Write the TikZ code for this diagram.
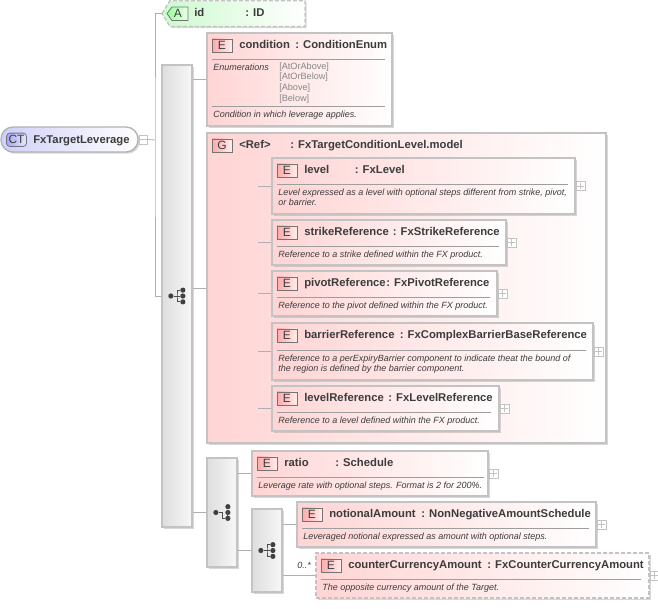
\documentclass[tikz,border=0pt]{standalone}
\usepackage{fontspec}
\setmainfont{Liberation Sans}
\usetikzlibrary{fit,positioning,shadows}
\definecolor{framegray}{RGB}{195,195,195}
\definecolor{linegray}{RGB}{175,175,175}
\definecolor{inkgray}{RGB}{60,60,60}
\definecolor{enumgray}{RGB}{135,135,135}
\definecolor{pinkbox}{RGB}{255,212,212}
\definecolor{greenbox}{RGB}{205,250,205}
\definecolor{bluebox}{RGB}{208,208,250}
\tikzset{
    softshadow/.style={drop shadow={shadow xshift=1.3pt,shadow yshift=-1.3pt,fill=black!45,opacity=.35}},
    elembox/.style={draw=framegray,line width=1.1pt,left color=pinkbox,right color=white,softshadow},
    optbox/.style={elembox,dash pattern=on 3pt off 1.5pt},
    barbox/.style={draw=framegray,line width=.9pt,left color=black!13,right color=black!3,softshadow},
    badge/.style={draw=black!55,line width=.6pt,left color=pinkbox!80!red,right color=pinkbox!40!white,
        minimum width=15pt,minimum height=9.8pt,inner sep=0pt,font=\fontsize{9}{9}\selectfont,text=inkgray},
    typetext/.style={anchor=base west,inner sep=0pt,font=\bfseries\fontsize{8.46}{10}\selectfont,text=inkgray},
    desctext/.style={anchor=base west,inner sep=0pt,font=\itshape\fontsize{6.75}{8}\selectfont,text=inkgray},
    enumtext/.style={anchor=base west,inner sep=0pt,font=\fontsize{6.85}{8}\selectfont,text=enumgray},
    foldbox/.style={draw=framegray,fill=white,line width=.6pt,minimum size=6.6pt,inner sep=0pt},
    foldline/.style={draw=framegray,line width=.6pt},
    wire/.style={draw=linegray,line width=.6pt},
    sepline/.style={draw=black!38,line width=.6pt},
    icondot/.style={circle,fill=black!75,inner sep=0pt,minimum size=3.9pt},
    iconline/.style={draw=black!70,line width=.6pt}
}
% box given by its corners
\newcommand\xsdbox[6]{
    \node[#1,fit={(#3,#4) (#5,#6)},inner sep=0pt] (#2) {};
}
% name line of an element box
\newcommand\elemhead[6]{
    \node[badge] (#1-badge) at (#2+15,#3+12.5) {E};
    \node[typetext] (#1-name) at (#2+32,#3+15.6) {#4};
    \node[typetext] (#1-type) at (#5,#3+15.6) {: #6};
}
% rule under the name line, first line of text under it
\newcommand\elemdesc[5]{
    \draw[sepline] (#2+5,#3) -- (#4,#3);
    \node[desctext] (#1-desc) at (#2+6,#3+11) {#5};
}
\newcommand\foldplus[1]{
    \node[foldbox,right=0pt of #1] (#1-fold) {};
    \draw[foldline] ([xshift=1.3pt]#1-fold.west) -- ([xshift=-1.3pt]#1-fold.east);
    \draw[foldline] ([yshift=1.3pt]#1-fold.south) -- ([yshift=-1.3pt]#1-fold.north);
}
% compositor icons, full and short
\newcommand\icondots[1]{
    \node[icondot] (#1-a) at ([xshift=-4.6pt]#1.center) {};
    \node[icondot] (#1-b) at ([xshift=4.4pt,yshift=4.4pt]#1.center) {};
    \node[icondot] (#1-c) at ([xshift=4.4pt]#1.center) {};
    \node[icondot] (#1-d) at ([xshift=4.4pt,yshift=-4.4pt]#1.center) {};
}
\newcommand\iconfull[1]{
    \icondots{#1}
    \draw[iconline] (#1-a) -- (#1-c);
    \draw[iconline] (#1-b) -| (#1.center) |- (#1-d);
}
\newcommand\iconshort[1]{
    \icondots{#1}
    \draw[iconline] (#1-a) -- (#1.center) |- (#1-d);
    \draw[iconline] (#1-b) -- (#1-d);
}
\begin{document}
\begin{tikzpicture}[x=0.75pt,y=-0.75pt]
    \useasboundingbox (0,0) rectangle (658,608);
    \coordinate (trunk) at (155,140);
    % root
    \node[draw=black!30,line width=1pt,rounded corners=9pt,left color=bluebox,right color=white,softshadow,
        fit={(1,127) (138,152)},inner sep=0pt] (root) {};
    \node[badge,rounded corners=2.5pt,left color=bluebox!80!blue,right color=bluebox!50!white,minimum height=10pt] (root-badge) at (16.5,139.8) {CT};
    \node[typetext] (root-name) at (33,143.6) {FxTargetLeverage};
    \node[foldbox,right=0pt of root] (root-fold) {};
    \draw[foldline] ([xshift=1.3pt]root-fold.west) -- ([xshift=-1.3pt]root-fold.east);
    % attribute
    \coordinate (id) at (162,13.5);
    \draw[framegray,line width=1pt,dash pattern=on 3pt off 1.5pt,left color=greenbox,right color=white,softshadow]
        (id) -- (170,.7) -- (305,.7) -- (305,26.5) -- (170,26.5) -- cycle;
    \draw[black!55,line width=.6pt,left color=green!40!white,right color=green!8!white]
        (167,13.5) -- (172,7) -- (188,7) -- (188,20.5) -- (172,20.5) -- cycle;
    \node[inner sep=0pt,font=\fontsize{9}{9}\selectfont,text=inkgray] (id-badge) at (178,13.8) {A};
    \node[typetext] (id-name) at (194,16.5) {id};
    \node[typetext] (id-type) at (245,16.5) {: ID};
    % compositors
    \xsdbox{barbox}{seqmain}{162}{65}{192}{527}
    \xsdbox{barbox}{seqlevel}{227}{170}{257}{424}
    \xsdbox{barbox}{seqratio}{207}{458}{237}{567}
    \xsdbox{barbox}{seqamount}{252}{509}{282}{592}
    \iconfull{seqmain}
    \iconshort{seqlevel}
    \iconshort{seqratio}
    \iconfull{seqamount}
    % condition
    \xsdbox{elembox}{condition}{207}{33}{392}{126}
    \elemhead{condition}{207}{33}{condition}{295}{ConditionEnum}
    \draw[sepline] (212,59.5) -- (385,59.5);
    \node[desctext] (condition-enums) at (213,70) {Enumerations};
    \node[enumtext] (enum-a) at (279,69.5) {[AtOrAbove]};
    \node[enumtext] (enum-b) at (279,79.5) {[AtOrBelow]};
    \node[enumtext] (enum-c) at (279,90.5) {[Above]};
    \node[enumtext] (enum-d) at (279,101.5) {[Below]};
    \elemdesc{condition}{207}{106.5}{385}{Condition in which leverage applies.}
    % group
    \xsdbox{elembox}{levelgroup}{207}{133}{606}{443}
    \node[badge] (levelgroup-badge) at (222,145.5) {G};
    \node[typetext] (levelgroup-name) at (239,148.6) {<Ref>};
    \node[typetext] (levelgroup-type) at (290,148.6) {: FxTargetConditionLevel.model};
    % level
    \xsdbox{elembox}{level}{272}{158}{575}{214}
    \elemhead{level}{272}{158}{level}{354.5}{FxLevel}
    \elemdesc{level}{272}{184.5}{568}{Level expressed as a level with optional steps different from strike, pivot,}
    \node[desctext] (level-descb) at (278,205.5) {or barrier.};
    % strikeReference
    \xsdbox{elembox}{strike}{272}{220}{506}{265}
    \elemhead{strike}{272}{220}{strikeReference}{392.5}{FxStrikeReference}
    \elemdesc{strike}{272}{246.5}{499}{Reference to a strike defined within the FX product.}
    % pivotReference
    \xsdbox{elembox}{pivot}{272}{271}{497}{316}
    \elemhead{pivot}{272}{271}{pivotReference}{386}{FxPivotReference}
    \elemdesc{pivot}{272}{297.5}{490}{Reference to the pivot defined within the FX product.}
    % barrierReference
    \xsdbox{elembox}{barrier}{272}{323}{593}{380}
    \elemhead{barrier}{272}{323}{barrierReference}{399.5}{FxComplexBarrierBaseReference}
    \elemdesc{barrier}{272}{350.5}{586}{Reference to a perExpiryBarrier component to indicate theat the bound of}
    \node[desctext] (barrier-descb) at (278,371.5) {the region is defined by the barrier component.};
    % levelReference
    \xsdbox{elembox}{levelref}{272}{386}{499}{431}
    \elemhead{levelref}{272}{386}{levelReference}{388}{FxLevelReference}
    \elemdesc{levelref}{272}{412.5}{491}{Reference to a level defined within the FX product.}
    % ratio
    \xsdbox{elembox}{ratio}{252}{451}{488}{496}
    \elemhead{ratio}{252}{451}{ratio}{335}{Schedule}
    \elemdesc{ratio}{252}{477.5}{484}{Leverage rate with optional steps. Format is 2 for 200\%.}
    % notionalAmount
    \xsdbox{elembox}{notional}{297}{502}{596}{547}
    \elemhead{notional}{297}{502}{notionalAmount}{421}{NonNegativeAmountSchedule}
    \elemdesc{notional}{297}{528.5}{589}{Leveraged notional expressed as amount with optional steps.}
    % counterCurrencyAmount
    \xsdbox{optbox}{counter}{316}{553}{649}{598}
    \elemhead{counter}{316}{553}{counterCurrencyAmount}{487}{FxCounterCurrencyAmount}
    \elemdesc{counter}{316}{579.5}{641}{The opposite currency amount of the Target.}
    \node[desctext] (counter-occurs) at (297,568) {0..*};
    % fold boxes
    \foreach \boxname in {level,strike,pivot,barrier,levelref,ratio,notional,counter} {
        \foldplus{\boxname}
    }
    % connectors
    \draw[wire] (root-fold.east) -- (trunk);
    \draw[wire] (id) -| (trunk) |- (seqmain.west);
    \foreach \boxname in {condition,levelgroup,seqratio} {
        \draw[wire] (\boxname.west) -- (\boxname.west -| seqmain.east);
    }
    \foreach \boxname in {level,strike,pivot,barrier,levelref} {
        \draw[wire] (\boxname.west) -- (\boxname.west -| seqlevel.east);
    }
    \foreach \boxname in {ratio,seqamount} {
        \draw[wire] (\boxname.west) -- (\boxname.west -| seqratio.east);
    }
    \foreach \boxname in {notional,counter} {
        \draw[wire] (\boxname.west) -- (\boxname.west -| seqamount.east);
    }
\end{tikzpicture}
\end{document}
